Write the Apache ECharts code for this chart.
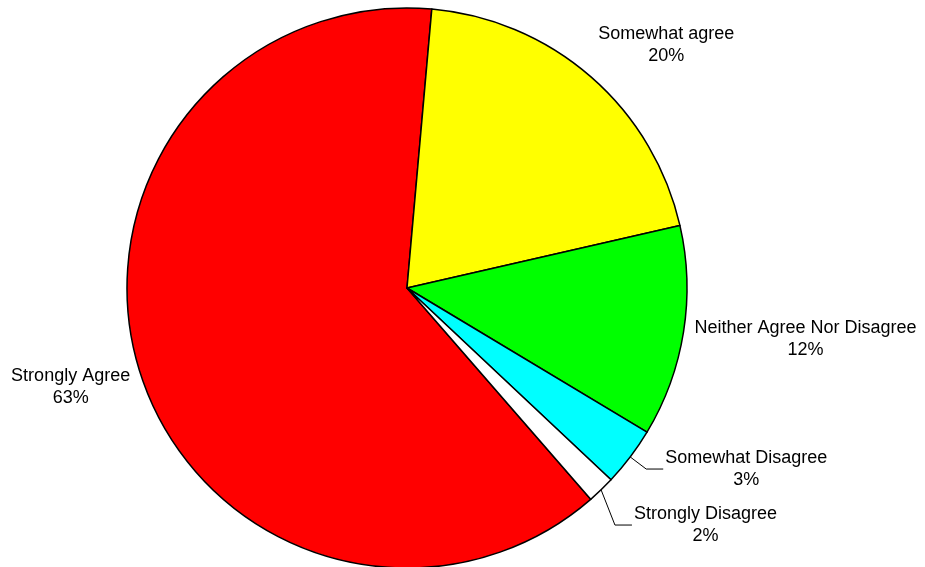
<!DOCTYPE html>
<html>
<head>
<meta charset="utf-8">
<script src="https://cdn.jsdelivr.net/npm/echarts@6/dist/echarts.min.js"></script>
<style>html,body{margin:0;padding:0;background:#fff}#c{width:925px;height:567px}</style>
</head>
<body>
<div id="c"></div>
<script>
const categories = ['Strongly Agree', 'Somewhat agree', 'Neither Agree Nor Disagree', 'Somewhat Disagree', 'Strongly Disagree'];
const values = [62.8, 20.0, 12.2, 3.4, 1.6];
const colors = ['#FF0000', '#FFFF00', '#00FF00', '#00FFFF', '#FFFFFF'];
const leaderLabels = [3, 4];

const CX = 407, CY = 288, R = 280;
const boxes = {};

function layoutLabel(p) {
  const P = p.labelLinePoints ? p.labelLinePoints[0] : [CX, CY];
  const ux = (P[0] - CX) / R, uy = (P[1] - CY) / R;
  const w = p.labelRect.width, h = p.labelRect.height;
  const i = p.dataIndex;
  if (leaderLabels.includes(i)) {
    const len = 20, len2 = 17;
    let bx = P[0] + len * ux, by = P[1] + len * uy;
    const prev = boxes[i - 1];
    if (prev && by - h / 2 < prev.bottom + 12) by = prev.bottom + 12 + h / 2;
    const ex = bx + len2;
    boxes[i] = {bottom: by + h / 2};
    return {
      x: ex + 2 + w / 2, y: by, align: 'center', verticalAlign: 'middle',
      labelLinePoints: [[P[0], P[1]], [bx, by], [ex, by]]
    };
  }
  const d = 11;
  const cx = ux >= 0 ? P[0] + d * ux + w / 2 : P[0] + d * ux - w / 2;
  const cy = P[1] + d * uy + uy * h * 0.7;
  boxes[i] = {bottom: cy + h / 2};
  return {x: cx, y: cy, align: 'center', verticalAlign: 'middle'};
}

const chart = echarts.init(document.getElementById('c'), null, {renderer: 'canvas'});
chart.setOption({
  animation: false,
  backgroundColor: '#fff',
  textStyle: {fontFamily: 'Liberation Sans, Arial, sans-serif'},
  series: [{
    type: 'pie',
    center: [CX, CY],
    radius: R,
    startAngle: -49,
    clockwise: true,
    avoidLabelOverlap: false,
    data: categories.map((n, i) => ({
      name: n, value: values[i],
      itemStyle: {color: colors[i]},
      labelLine: {show: leaderLabels.includes(i)}
    })),
    itemStyle: {borderColor: '#000', borderWidth: 1.5},
    label: {
      show: true, position: 'outside', color: '#000', fontSize: 18,
      fontFamily: 'Liberation Sans, Arial, sans-serif', lineHeight: 22,
      formatter: p => p.name + '\n' + Math.round(p.percent) + '%'
    },
    labelLine: {show: true, length: 20, length2: 18, lineStyle: {color: '#000', width: 1}},
    labelLayout: layoutLabel,
    emphasis: {disabled: true}
  }]
});
</script>
</body>
</html>
